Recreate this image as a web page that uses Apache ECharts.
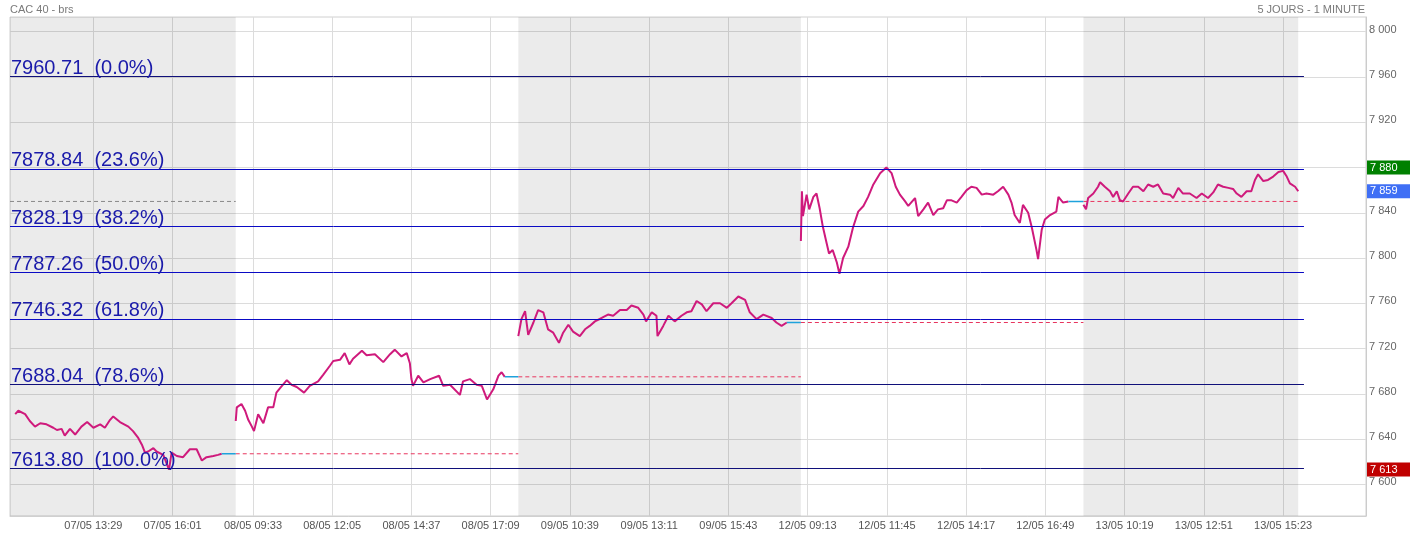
<!DOCTYPE html>
<html><head><meta charset="utf-8">
<script src="https://cdn.jsdelivr.net/npm/echarts@6/dist/echarts.min.js"></script>
<style>html,body{margin:0;padding:0;background:#fff}#c{width:1410px;height:537px}</style>
</head><body><div id="c"></div>
<script>
// ---------- data ----------
const days = ['07/05', '08/05', '09/05', '12/05', '13/05'];
// [minutes after 09:00, price]
const day0 = [[119,7662],[125,7665],[138,7662],[147,7656],[157,7651],[167,7654],[179,7653],[192,7650],[199,7648],[208,7649],[214,7643],[224,7649],[234,7644],[246,7651],[257,7655],[269,7650],[282,7653],[291,7650],[301,7657],[307,7660],[320,7655],[336,7651],[345,7647],[355,7641],[362,7635],[368,7628],[374,7629],[384,7632],[390,7629],[403,7626],[409,7619],[414,7613],[419,7628],[429,7625],[441,7624],[454,7631],[467,7631],[477,7621],[486,7624],[499,7625],[508,7626],[515,7627]];
const day1 = [[0,7656],[2,7668],[11,7671],[18,7665],[24,7657],[31,7651],[35,7647],[43,7662],[53,7654],[62,7668],[72,7668],[78,7681],[85,7685],[98,7692],[107,7688],[117,7686],[131,7681],[142,7687],[158,7691],[168,7697],[181,7705],[187,7709],[200,7710],[209,7716],[218,7706],[225,7711],[242,7718],[251,7714],[267,7715],[283,7708],[296,7715],[305,7719],[318,7713],[328,7716],[334,7707],[337,7693],[340,7687],[350,7696],[360,7690],[373,7693],[390,7696],[398,7687],[411,7688],[430,7679],[436,7691],[449,7693],[462,7688],[472,7687],[482,7675],[494,7684],[504,7696],[510,7699],[516,7695]];
const day2 = [[0,7731],[6,7746],[13,7753],[19,7732],[29,7743],[38,7754],[48,7752],[57,7737],[67,7734],[78,7725],[86,7734],[96,7741],[105,7735],[118,7731],[128,7737],[137,7740],[147,7744],[160,7747],[172,7750],[182,7749],[195,7754],[208,7754],[217,7758],[230,7756],[240,7750],[245,7744],[256,7752],[265,7749],[267,7731],[278,7740],[288,7749],[300,7744],[313,7749],[323,7752],[332,7753],[342,7762],[352,7759],[361,7753],[374,7760],[387,7760],[400,7756],[409,7760],[422,7766],[435,7763],[444,7752],[457,7746],[470,7750],[486,7747],[495,7743],[505,7740],[515,7743]];
const day3 = [[0,7815],[2,7859],[4,7837],[11,7856],[16,7843],[24,7854],[30,7857],[36,7844],[42,7828],[48,7816],[54,7804],[61,7807],[69,7796],[74,7786],[81,7800],[91,7810],[100,7827],[110,7841],[120,7846],[129,7854],[139,7865],[152,7875],[164,7880],[174,7875],[182,7863],[190,7856],[200,7850],[206,7846],[219,7853],[225,7837],[235,7843],[244,7849],[254,7838],[263,7843],[273,7844],[280,7851],[289,7851],[299,7849],[308,7854],[318,7860],[327,7863],[337,7862],[347,7856],[356,7857],[369,7856],[378,7859],[388,7863],[398,7856],[404,7849],[410,7838],[420,7831],[426,7847],[436,7840],[443,7827],[452,7807],[455,7799],[462,7825],[468,7834],[478,7838],[490,7841],[494,7854],[503,7849],[513,7850]];
const day4 = [[0,7847],[5,7843],[9,7853],[19,7857],[28,7863],[32,7867],[41,7863],[51,7859],[57,7854],[64,7859],[70,7851],[76,7850],[86,7857],[95,7863],[105,7863],[115,7859],[124,7865],[134,7863],[143,7865],[153,7857],[166,7856],[172,7853],[182,7862],[191,7857],[204,7857],[217,7853],[227,7857],[239,7853],[249,7858],[258,7865],[268,7863],[278,7862],[287,7861],[294,7857],[303,7854],[313,7859],[322,7859],[329,7869],[335,7874],[345,7868],[354,7869],[364,7872],[374,7876],[383,7877],[390,7872],[396,7866],[406,7863],[412,7859]];
const prevClose = [7850, 7627, 7695, 7743, 7850];
const tickLabels = ['07/05 13:29','07/05 16:01','08/05 09:33','08/05 12:05','08/05 14:37','08/05 17:09','09/05 10:39','09/05 13:11','09/05 15:43','12/05 09:13','12/05 11:45','12/05 14:17','12/05 16:49','13/05 10:19','13/05 12:51','13/05 15:23'];
const yTicks = [7600, 7640, 7680, 7720, 7760, 7800, 7840, 7880, 7920, 7960, 8000];
const fibValues = [7960.71, 7878.84, 7828.19, 7787.26, 7746.32, 7688.04, 7613.80];
const fibPcts = ['0.0%', '23.6%', '38.2%', '50.0%', '61.8%', '78.6%', '100.0%'];
const highValue = 7880, lastValue = 7859, lowValue = 7613;

// ---------- layout / helpers ----------
const SLOT = 542;           // minutes per day slot (from 09:00)
const X_MIN = 109, X_MAX = 2710;
const dayData = [day0, day1, day2, day3, day4];
const toT = (d, m) => d * SLOT + m;
function tickT(label) {
  const [dm, hm] = label.split(' ');
  const d = days.indexOf(dm);
  const [h, mi] = hm.split(':').map(Number);
  return toT(d, h * 60 + mi - 540);
}
const tickVals = tickLabels.map(tickT);
const labelMap = {};
tickVals.forEach((t, i) => { labelMap[t] = tickLabels[i]; });
const lastDay = dayData.length - 1;
const lastT = toT(lastDay, dayData[lastDay][dayData[lastDay].length - 1][0]);
const fibEnd = lastT + 11;
const fmt = v => { v = Math.round(v); return Math.floor(v / 1000) + ' ' + String(v % 1000).padStart(3, '0'); };
const FONT = '"Liberation Sans", Arial, sans-serif';
const PINK = '#cf1a7c', BLUE = '#1ea2dc';

const series = [];
// shading + fibonacci levels
series.push({
  type: 'line', data: [], silent: true, z: 1,
  markArea: {
    silent: true, itemStyle: { color: 'rgba(0,0,0,0.08)' },
    data: [0, 2, 4].map(d => [{ xAxis: Math.max(X_MIN, d * SLOT) }, { xAxis: Math.min((d + 1) * SLOT, lastT) }])
  },
  markLine: {
    silent: true, symbol: 'none', animation: false,
    data: fibValues.map((v, i) => {
      const dark = (i === 0 || i === 5 || i === 6);
      return [{
        coord: [X_MIN, v],
        lineStyle: { color: dark ? '#10107a' : '#0a0ac4', width: 1, type: 'solid' },
        label: {
          show: true, position: 'insideStartTop', distance: [1, -2],
          formatter: v.toFixed(2) + '  (' + fibPcts[i] + ')',
          color: '#1a1aaa', fontSize: 20, fontFamily: FONT
        }
      }, { coord: [fibEnd, v] }];
    })
  }
});
// previous close dashed lines
prevClose.forEach((pc, d) => {
  series.push({
    type: 'line', silent: true, z: 2, symbol: 'none',
    data: [[Math.max(X_MIN, d * SLOT), pc], [Math.min((d + 1) * SLOT, d === lastDay ? lastT : Infinity), pc]],
    lineStyle: { color: d === 0 ? '#888888' : '#e8365f', width: 1, type: [4, 3] }
  });
});
// price lines
dayData.forEach((arr, d) => {
  series.push({
    type: 'line', silent: true, z: 4, symbol: 'none',
    data: arr.map(p => [toT(d, p[0]), p[1]]),
    lineStyle: { color: PINK, width: 2 }
  });
  if (d < lastDay) {
    const lp = arr[arr.length - 1];
    series.push({
      type: 'line', silent: true, z: 4, symbol: 'none',
      data: [[toT(d, lp[0]), lp[1]], [toT(d + 1, 0), lp[1]]],
      lineStyle: { color: BLUE, width: 1.6 }
    });
  }
});
// right value boxes
const boxes = [[highValue, '#008000'], [lastValue, '#3f6ff5'], [lowValue, '#c00000']];
series.push({
  type: 'line', data: [], silent: true, z: 5, clip: false,
  markLine: {
    silent: true, symbol: 'none', animation: false,
    lineStyle: { color: 'rgba(0,0,0,0)', width: 0 },
    data: boxes.map(b => ({
      yAxis: b[0],
      label: {
        show: true, opacity: 1, position: 'end', distance: 1, formatter: fmt(b[0]),
        color: '#fff', backgroundColor: b[1], fontSize: 11, fontFamily: FONT,
        lineHeight: 11, padding: [2, 13, 1, 3]
      }
    }))
  }
});

const chart = echarts.init(document.getElementById('c'), null, { renderer: 'canvas' });
chart.setOption({
  animation: false,
  backgroundColor: '#fff',
  title: [
    { text: 'CAC 40 - brs', left: 10, top: 4, padding: 0, textStyle: { fontSize: 11, color: '#7a7a7a', fontWeight: 'normal', fontFamily: FONT } },
    { text: '5 JOURS - 1 MINUTE', right: 45, top: 4, padding: 0, textStyle: { fontSize: 11, color: '#7a7a7a', fontWeight: 'normal', fontFamily: FONT } }
  ],
  grid: { left: 10, right: 44, top: 17, bottom: 21, show: true, borderColor: '#d0d0d0', borderWidth: 1, containLabel: false },
  xAxis: {
    type: 'value', min: X_MIN, max: X_MAX,
    axisLine: { show: true, lineStyle: { color: '#d0d0d0' } },
    axisTick: { show: false, customValues: tickVals },
    splitLine: { show: true, lineStyle: { color: '#dcdcdc', width: 1 } },
    axisLabel: {
      customValues: tickVals, margin: 4, color: '#555', fontSize: 11, fontFamily: FONT,
      formatter: v => labelMap[v] || ''
    }
  },
  yAxis: {
    type: 'value', position: 'right', min: 7572, max: 8013,
    axisLine: { show: true, lineStyle: { color: '#cccccc' } },
    axisTick: { show: false, customValues: yTicks },
    splitLine: { show: true, lineStyle: { color: '#dcdcdc', width: 1 } },
    axisLabel: { customValues: yTicks, margin: 3, verticalAlign: 'bottom', lineHeight: 4, color: '#666', fontSize: 11, fontFamily: FONT, formatter: v => fmt(v) }
  },
  series: series
});
</script>
</body></html>
